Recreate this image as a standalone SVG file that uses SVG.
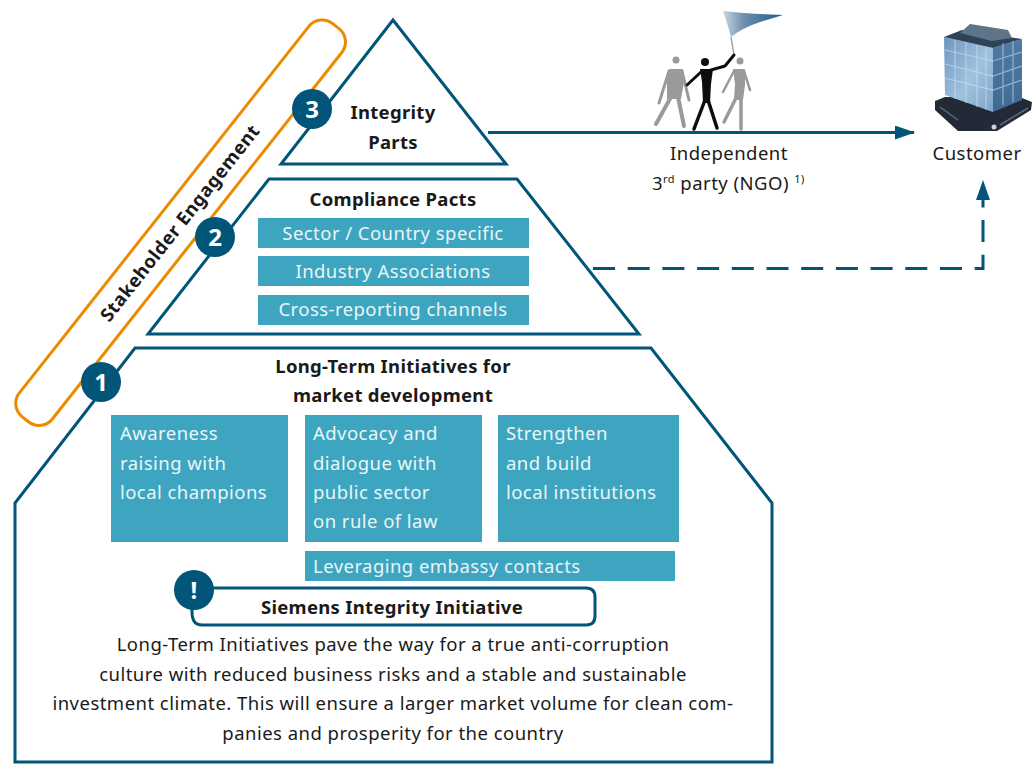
<svg xmlns="http://www.w3.org/2000/svg" width="1032" height="764" viewBox="0 0 1032 764">
<style>
text{font-family:"Noto Sans","Open Sans","Liberation Sans",sans-serif;fill:#1a1a1a}
.p{fill:#fff;stroke:#005578;stroke-width:3}
.b{fill:#3da5c0}
.w{fill:#e9f5f8;font-size:18.5px;letter-spacing:.45px}
.h{font-weight:700;font-size:18.5px;letter-spacing:.3px;text-anchor:middle}
.t{font-size:18.5px;letter-spacing:.47px;text-anchor:middle}
.m{text-anchor:middle}
.c{fill:#005578}
.n{fill:#fff;font-weight:700;font-size:24px;text-anchor:middle}
.line{fill:none;stroke:#005578;stroke-width:3}
.grid{fill:none;stroke:#d8e8f4;stroke-opacity:.55;stroke-width:1.200}
.limb{fill:none;stroke-linecap:round;stroke-linejoin:round}
</style>
<defs>
<marker id="arrow" markerUnits="userSpaceOnUse" markerWidth="20" markerHeight="16" refX="19" refY="7" orient="auto"><path d="M0 0L20 7L0 14Z" fill="#005578"/></marker>
<linearGradient id="glassL" x1="0" y1="0" x2="1" y2="1"><stop offset="0" stop-color="#6d95bf"/><stop offset=".55" stop-color="#9fc2de"/><stop offset="1" stop-color="#7ea6c9"/></linearGradient>
<linearGradient id="glassR" x1="0" y1="0" x2="0" y2="1"><stop offset="0" stop-color="#4f7ba6"/><stop offset="1" stop-color="#3f6a94"/></linearGradient>
<linearGradient id="flag" x1="0" y1="0" x2="1" y2="0"><stop offset="0" stop-color="#c9d6e2"/><stop offset=".35" stop-color="#6d8fae"/><stop offset="1" stop-color="#1f5b85"/></linearGradient>
<filter id="soft" x="-10%" y="-10%" width="120%" height="120%"><feGaussianBlur stdDeviation=".6"/></filter>
</defs>
<g id="stakeholder">
<rect transform="translate(180.6 222.7) rotate(-51.7)" x="-250.500" y="-21" width="501" height="42" rx="17" fill="none" stroke="#ec8a00" stroke-width="3"/>
<text transform="translate(185 227) rotate(-51.7)" class="h" style="letter-spacing:.5px">Stakeholder Engagement</text>
</g>
<g id="level3">
<path class="p" d="M393 20L506 164H281Z"/>
<text class="h" x="393" y="119">Integrity</text><text class="h" x="393" y="149">Parts</text>
<circle class="c" cx="312" cy="109" r="20"/><text class="n" x="312" y="118">3</text>
</g>
<g id="level2">
<path class="p" d="M269 179H517L639 334H148Z"/>
<text class="h" x="393" y="206">Compliance Pacts</text>
<rect class="b" x="258" y="218" width="271" height="30"/><text class="w m" x="393" y="240">Sector / Country specific</text>
<rect class="b" x="258" y="256" width="271" height="30"/><text class="w m" x="393" y="278">Industry Associations</text>
<rect class="b" x="258" y="295" width="271" height="30"/><text class="w m" x="393" y="316">Cross-reporting channels</text>
<circle class="c" cx="215" cy="237" r="20"/><text class="n" x="215" y="246">2</text>
</g>
<g id="level1">
<path class="p" d="M135 348H651L772 503V762H15V503Z"/>
<text class="h" x="393" y="373">Long-Term Initiatives for</text><text class="h" x="393" y="402">market development</text>
<rect class="b" x="111" y="415" width="177" height="127"/>
<text class="w" x="120" y="440">Awareness</text><text class="w" x="120" y="470">raising with</text><text class="w" x="120" y="499">local champions</text>
<rect class="b" x="305" y="415" width="177" height="127"/>
<text class="w" x="313" y="440">Advocacy and</text><text class="w" x="313" y="470">dialogue with</text><text class="w" x="313" y="499">public sector</text><text class="w" x="313" y="528">on rule of law</text>
<rect class="b" x="498" y="415" width="181" height="127"/>
<text class="w" x="506" y="440">Strengthen</text><text class="w" x="506" y="470">and build</text><text class="w" x="506" y="499">local institutions</text>
<rect class="b" x="305" y="551" width="370" height="30"/><text class="w" x="313" y="573">Leveraging embassy contacts</text>
<text class="t" x="393" y="651">Long-Term Initiatives pave the way for a true anti-corruption</text>
<text class="t" x="393" y="681">culture with reduced business risks and a stable and sustainable</text>
<text class="t" x="393" y="710">investment climate. This will ensure a larger market volume for clean com-</text>
<text class="t" x="393" y="740">panies and prosperity for the country</text>
<circle class="c" cx="101" cy="382" r="20"/><text class="n" x="101" y="391">1</text>
</g>
<g id="initiative">
<path class="line" d="M192 588H586Q595 588 595 597V616Q595 625 586 625H202Q192 625 192 612V600"/>
<text class="h" x="392" y="614">Siemens Integrity Initiative</text>
<circle class="c" cx="194" cy="590" r="20"/><text class="n" x="194" y="599">!</text>
</g>
<g id="connectors">
<path class="line" d="M488 132.500H914" marker-end="url(#arrow)"/>
<path class="line" d="M593 268.500H983V181" stroke-dasharray="22 12.700" marker-end="url(#arrow)"/>
</g>
<g id="ngo">
<g filter="url(#soft)">
<path d="M723 11Q750 14 783 15L760 22Q742 28 731 37Q727 22 723 11Z" fill="url(#flag)"/>
<path d="M731 37L734 55" stroke="#a0a0a0" stroke-width="1.500" fill="none"/>
<g fill="#9a9a9a" stroke="#9a9a9a">
<circle cx="676" cy="60" r="3.500" stroke="none"/>
<path d="M669 69L683 69L684 82L681 99L667 99L667 82Z" stroke="none"/>
<path class="limb" stroke-width="3" d="M669 71L659 103M682 71L689 100"/>
<path class="limb" stroke-width="4" d="M671 97L656 124M678 97L684 126"/>
<circle cx="740" cy="61" r="3.500" stroke="none"/>
<path d="M733 69L745 69L745 85L743 100L734 100L735 84Z" stroke="none"/>
<path class="limb" stroke-width="2.500" d="M734 71L723 92M744 71L750 90"/>
<path class="limb" stroke-width="3.500" d="M736 98L724 122M741 98L741 129"/>
</g>
<g fill="#111" stroke="#111">
<circle cx="705" cy="62" r="4" stroke="none"/>
<path d="M700 69L713 69L711 84L710 103L703 103L702 82Z" stroke="none"/>
<path class="limb" stroke-width="3" d="M701 72L687 85M711 70L725 66L734 55"/>
<path class="limb" stroke-width="3.500" d="M705 100L694 129M708 100L717 128"/>
</g>
</g>
<text class="t" x="729" y="160">Independent</text>
<text class="t" x="652" y="190" style="text-anchor:start">3<tspan font-size="11" dy="-7">rd</tspan><tspan dy="7"> party (NGO) </tspan><tspan font-size="11" dy="-7">1)</tspan></text>
</g>
<g id="customer">
<g filter="url(#soft)">
<path d="M935 101L945 97L1022 98L1032 102L1031 110L997 131L958 131L935 110Z" fill="#232c38"/>
<path d="M944 37L993 48V112L945 95Z" fill="url(#glassL)"/>
<path d="M993 48L1022 39V100L993 112Z" fill="url(#glassR)"/>
<path d="M944 37L962 30L1022 39L993 48Z" fill="#2e4358"/>
<path d="M960 33L970 24L1008 30L1012 38L992 41Z" fill="#5f7487"/>
<path class="grid" d="M955 40V99M966 42V103M977 45V107M986 47V110M1003 43V105M1013 41V102M945 50L993 61L1022 52M945 64L993 76L1022 66M945 78L993 90L1022 80"/>
<path d="M940 107L958 120M1000 125L1028 108" stroke="#5b6878" stroke-width="1.500" fill="none"/>
<circle cx="994" cy="127" r="2.500" fill="#c6d3de"/>
</g>
<text class="t" x="977" y="160">Customer</text>
</g>
</svg>
